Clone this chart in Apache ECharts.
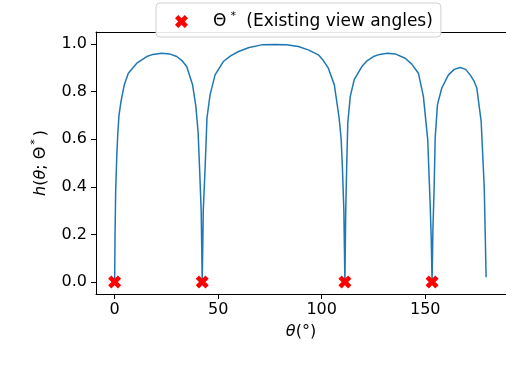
<!DOCTYPE html>
<html>
<head>
<meta charset="utf-8">
<script src="https://cdn.jsdelivr.net/npm/echarts@6/dist/echarts.min.js"></script>
<style>
  html, body { margin: 0; padding: 0; background: #fff; }
  #chart { width: 506px; height: 370px; }
</style>
</head>
<body>
<div id="chart"></div>
<script>
// h(theta; Theta*)
const thetaVals = [
  0, 0.2, 0.5, 1.0, 1.5, 2.1, 3.1, 4.7, 6.6, 10.7, 15.5, 18.5, 22.7, 26.5, 30, 32.5, 34.8, 37.6, 39.2, 40.3, 41.1, 41.8,
  42.3, 42.8, 43.7, 44.6, 46.1, 48.5, 52.5, 56, 59.8, 65, 71, 77.5, 83, 88.7, 93.5, 98.4, 100.8, 103.2, 106.1, 108.4, 109.4, 110, 110.7,
  111.2, 111.6, 112, 112.6, 113.8, 115.7, 119.4, 122, 125, 128, 131.7, 135.5, 140.3, 143.5, 146.7, 149.1, 151.2, 152.4, 152.9,
  153.3, 153.7, 154.3, 154.8, 155.9, 158, 161.2, 164, 166.9, 169.5, 171.7, 173.5, 174.9, 177, 178.5, 179.4
];
const hVals = [
  0, 0.2, 0.38, 0.52, 0.62, 0.70, 0.76, 0.83, 0.877, 0.919, 0.947, 0.956, 0.961, 0.958, 0.947, 0.93, 0.905, 0.83, 0.74, 0.63, 0.46, 0.3,
  0, 0.3, 0.48, 0.69, 0.787, 0.87, 0.926, 0.95, 0.968, 0.985, 0.996, 0.998, 0.996, 0.989, 0.975, 0.954, 0.93, 0.898, 0.828, 0.69, 0.6, 0.48, 0.3,
  0, 0.3, 0.46, 0.67, 0.78, 0.85, 0.905, 0.93, 0.947, 0.956, 0.961, 0.958, 0.94, 0.915, 0.877, 0.78, 0.598, 0.32, 0.18,
  0, 0.22, 0.396, 0.605, 0.745, 0.815, 0.87, 0.893, 0.901, 0.893, 0.87, 0.845, 0.815, 0.675, 0.396, 0.02
];
const viewAngles = [0, 42.3, 111.2, 153.3];
const xTicks = [0, 50, 100, 150];
const yTicks = [0, 0.2, 0.4, 0.6, 0.8, 1.0];

const xMark = "path://M0,1.5 L1.5,0 L3,1.5 L4.5,0 L6,1.5 L4.5,3 L6,4.5 L4.5,6 L3,4.5 L1.5,6 L0,4.5 L1.5,3 Z";
const font = "DejaVu Sans";

const chart = echarts.init(document.getElementById("chart"));

const option = {
  animation: false,
  textStyle: { fontFamily: font },
  grid: { left: 96, top: 32, width: 411, height: 262 },
  legend: {
    data: ["views"],
    top: 3,
    left: 156,
    padding: [8, 8, 7, 19],
    itemWidth: 13,
    itemHeight: 13,
    backgroundColor: "rgba(255,255,255,0.9)",
    borderColor: "#d0d0d0",
    borderWidth: 1,
    borderRadius: 4,
    formatter: () => "{t|Θ}{s|*}{t| (Existing view angles)}",
    textStyle: {
      padding: [0, 0, 0, 20],
      rich: {
        t: { fontSize: 17, fontFamily: font, color: "#000" },
        s: { fontSize: 11, fontFamily: font, color: "#000", padding: [0, 5, 10, 4] },
      },
    },
  },
  xAxis: [
    {
      type: "value",
      min: -9,
      max: 189,
      name: "{i|θ}{n|(°)}",
      nameLocation: "middle",
      nameGap: 30,
      nameTextStyle: {
        rich: {
          i: { fontSize: 16, fontStyle: "italic", fontFamily: font, color: "#000" },
          n: { fontSize: 16, fontFamily: font, color: "#000" },
        },
      },
      axisLine: { onZero: false, lineStyle: { color: "#000", width: 1 } },
      axisTick: { show: true, length: 5, lineStyle: { color: "#000" }, customValues: xTicks },
      axisLabel: { fontSize: 16, color: "#000", margin: 8, customValues: xTicks },
      splitLine: { show: false },
    },
    {
      type: "value",
      position: "top",
      min: -9,
      max: 189,
      axisLine: { show: true, onZero: false, lineStyle: { color: "#000", width: 1 } },
      axisTick: { show: false },
      axisLabel: { show: false },
      splitLine: { show: false },
    },
  ],
  yAxis: {
    type: "value",
    min: -0.05,
    max: 1.05,
    name: "{i|h}{n|(}{i|θ}{n|; Θ}{s|*}{n|)}",
    nameLocation: "middle",
    nameGap: 45,
    nameRotate: 90,
    nameTextStyle: {
      rich: {
        i: { fontSize: 16, fontStyle: "italic", fontFamily: font, color: "#000" },
        n: { fontSize: 16, fontFamily: font, color: "#000" },
        s: { fontSize: 11, fontFamily: font, color: "#000", padding: [0, 3, 10, 2] },
      },
    },
    axisLine: { show: true, onZero: false, lineStyle: { color: "#000", width: 1 } },
    axisTick: { show: true, length: 5, lineStyle: { color: "#000" }, customValues: yTicks },
    axisLabel: {
      fontSize: 16,
      color: "#000",
      margin: 9,
      customValues: yTicks,
      formatter: (v) => v.toFixed(1),
    },
    splitLine: { show: false },
  },
  series: [
    {
      name: "h",
      type: "line",
      data: thetaVals.map((t, i) => [t, hVals[i]]),
      showSymbol: false,
      symbol: "none",
      lineStyle: { color: "#1f77b4", width: 1.5 },
      z: 2,
    },
    {
      name: "views",
      type: "scatter",
      data: viewAngles.map((t) => [t, 0]),
      symbol: xMark,
      symbolSize: 13,
      itemStyle: { color: "#ff0000", opacity: 1 },
      z: 3,
    },
  ],
};

chart.setOption(option);
</script>
</body>
</html>
